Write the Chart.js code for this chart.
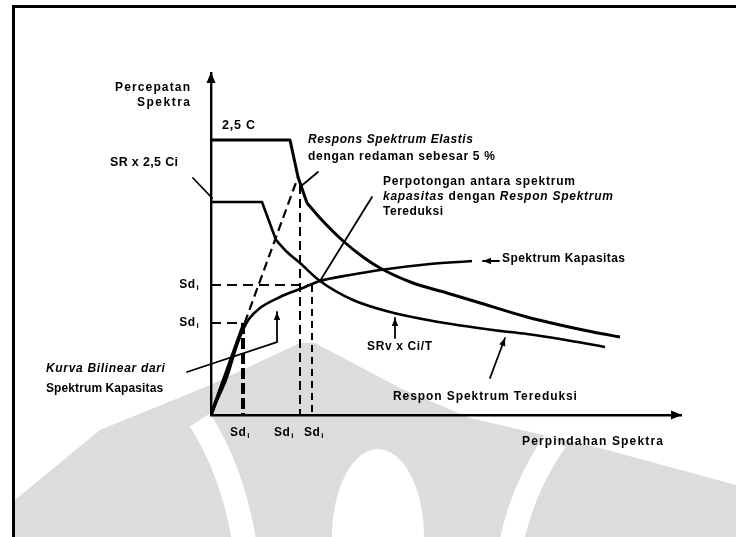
<!DOCTYPE html>
<html>
<head>
<meta charset="utf-8">
<title>Metode Spektrum Kapasitas</title>
<script src="https://cdn.jsdelivr.net/npm/chart.js@4/dist/chart.umd.min.js"></script>
<style>
  html, body { margin: 0; padding: 0; background: #ffffff; }
  canvas { display: block; }
</style>
</head>
<body>
<canvas id="chart" width="736" height="537"></canvas>
<script>
// Spectral displacement (Sd) and spectral acceleration (Sa), in drawing units.

// Elastic response spectrum, 5 % damping (2,5 C plateau)
const elasticSd = [0, 15.8, 17.4, 19.2, 21.8, 26.2, 30.4, 33.8, 40.4, 47.2, 53.2, 63.2, 69.8, 76.4, 81.8];
const elasticSa = [55, 55, 47.6, 42.4, 39.4, 35.0, 31.6, 29.4, 26.4, 24.4, 22.6, 19.6, 18.0, 16.6, 15.6];

// Reduced response spectrum (SR x 2,5 Ci plateau, SRv x Ci/T branch)
const reducedSd = [0, 10.2, 13.0, 15.2, 17.8, 21.8, 28.4, 35.8, 44.4, 56.4, 63.2, 69.8, 78.8];
const reducedSa = [42.6, 42.6, 35.0, 32.6, 30.4, 26.8, 23.0, 20.6, 18.8, 17.0, 16.2, 15.2, 13.6];

// Capacity spectrum
const capacitySd = [0, 0.8, 3.2, 5.2, 6.4, 7.6, 9.8, 13.8, 17.8, 21.8, 27.8, 33.8, 43.8, 52.2];
const capacitySa = [0, 2.0, 7.6, 14.0, 17.0, 19.2, 21.4, 23.6, 25.2, 26.8, 28.0, 29.0, 30.2, 30.8];

// Elastic line from the origin to the spectrum peak
const elasticLineSd = [0, 17.4];
const elasticLineSa = [0, 47.6];

// Bilinear idealisation (elastic branch)
const bilinearSd = [0, 6.6];
const bilinearSa = [0, 18.4];

// Characteristic points: displacements on the Sd axis, accelerations on the Sa axis
const sdMarks = [6.4, 17.8, 20.2];
const sdMarkTop = [18.4, 46.0, 26.0];
const saMarks = [26.0, 18.4];
const saMarkEnd = [20.2, 6.4];
const sdTickLabels = ['Sd', 'Sd', 'Sd'];
const saTickLabels = ['Sd', 'Sd'];

const pts = (xs, ys) => xs.map((x, i) => ({ x: x, y: ys[i] }));
const line = (xs, ys, extra) => Object.assign({
  data: pts(xs, ys),
  showLine: true,
  pointRadius: 0,
  borderColor: '#000',
  backgroundColor: '#000',
  fill: false,
  tension: 0,
  borderWidth: 2.6,
  borderCapStyle: 'butt',
  borderJoinStyle: 'round'
}, extra || {});
const smooth = { cubicInterpolationMode: 'monotone' };

const guideStyles = [
  { borderWidth: 4, borderDash: [11, 4] },
  { borderWidth: 2, borderDash: [9, 5] },
  { borderWidth: 2, borderDash: [7, 5] }
];

// straight plateau and drop, then the smooth descending branch
const elasticKnee = 3, reducedKnee = 2;
const datasets = [
  line(elasticSd.slice(0, elasticKnee + 1), elasticSa.slice(0, elasticKnee + 1), { borderWidth: 3 }),
  line(elasticSd.slice(elasticKnee), elasticSa.slice(elasticKnee), Object.assign({ borderWidth: 3 }, smooth)),
  line(reducedSd.slice(0, reducedKnee + 1), reducedSa.slice(0, reducedKnee + 1), { borderWidth: 2.6 }),
  line(reducedSd.slice(reducedKnee), reducedSa.slice(reducedKnee), Object.assign({ borderWidth: 2.6 }, smooth)),
  line(capacitySd, capacitySa, Object.assign({ borderWidth: 2.6 }, smooth)),
  line(elasticLineSd, elasticLineSa, { borderWidth: 2.2, borderDash: [9, 5] }),
  line(bilinearSd, bilinearSa, { borderWidth: 3.5 })
];
sdMarks.forEach((sd, i) => {
  datasets.push(line([sd, sd], [sdMarkTop[i], 0], guideStyles[i]));
});
saMarks.forEach((sa, i) => {
  datasets.push(line([0, saMarkEnd[i]], [sa, sa], { borderWidth: 2, borderDash: [10, 6] }));
});

// Annotation texts, anchored in data units (x: left or right edge, y: middle of the line)
const notes = [
  { runs: [{ t: 'Percepatan' }], x: -4.2, y: 65.4, align: 'right', w: 75 },
  { runs: [{ t: 'Spektra' }], x: -4.2, y: 62.4, align: 'right', w: 53 },
  { runs: [{ t: '2,5 C' }], x: 2.2, y: 57.8, align: 'left', w: 33, size: 12.5 },
  { runs: [{ t: 'SR x 2,5 Ci' }], x: -20.2, y: 50.4, align: 'left', w: 68, size: 12.5 },
  { runs: [{ t: 'Respons Spektrum Elastis', it: true }], x: 19.4, y: 55.0, align: 'left', w: 165 },
  { runs: [{ t: 'dengan redaman sebesar 5 %' }], x: 19.4, y: 51.6, align: 'left', w: 187 },
  { runs: [{ t: 'Perpotongan antara spektrum' }], x: 34.4, y: 46.6, align: 'left', w: 192 },
  { runs: [{ t: 'kapasitas ', it: true }, { t: 'dengan ' }, { t: 'Respon Spektrum', it: true }], x: 34.4, y: 43.6, align: 'left', w: 230 },
  { runs: [{ t: 'Tereduksi' }], x: 34.4, y: 40.6, align: 'left', w: 60 },
  { runs: [{ t: 'Spektrum Kapasitas' }], x: 58.2, y: 31.2, align: 'left', w: 123 },
  { runs: [{ t: 'SRv x Ci/T' }], x: 31.2, y: 13.6, align: 'left', w: 65 },
  { runs: [{ t: 'Respon Spektrum Tereduksi' }], x: 36.4, y: 3.6, align: 'left', w: 184 },
  { runs: [{ t: 'Kurva Bilinear dari', it: true }], x: -33.0, y: 9.2, align: 'left', w: 119 },
  { runs: [{ t: 'Spektrum Kapasitas' }], x: -33.0, y: 5.2, align: 'left', w: 117 },
  { runs: [{ t: 'Perpindahan Spektra' }], x: 62.2, y: -5.4, align: 'left', w: 141 }
];

// Leader lines from the texts to the curves (data units); arrow at the last point when set
const leaders = [
  { p: [[-3.6, 47.4], [0.2, 43.4]] },
  { p: [[17.8, 45.6], [21.4, 48.6]] },
  { p: [[32.2, 43.6], [21.8, 26.8]] },
  { p: [[57.6, 30.8], [54.4, 30.8]], arrow: true },
  { p: [[36.8, 15.4], [36.8, 19.4]], arrow: true },
  { p: [[55.8, 7.4], [58.8, 15.4]], arrow: true },
  { p: [[-4.8, 8.6], [13.2, 14.6], [13.2, 20.6]], arrow: true }
];

const FONT = '"Liberation Sans", Arial, sans-serif';

function drawRuns(ctx, note, px, py) {
  const size = note.size || 12;
  const fontFor = r => (r.it ? 'italic ' : '') + 'bold ' + size + 'px ' + FONT;
  ctx.letterSpacing = '0px';
  let natural = 0, chars = 0;
  note.runs.forEach(r => {
    ctx.font = fontFor(r);
    r._w = ctx.measureText(r.t).width;
    natural += r._w;
    chars += r.t.length;
  });
  const sp = Math.max(-0.6, (note.w - natural) / Math.max(1, chars - 1));
  const total = natural + sp * (chars - 1);
  let x = note.align === 'right' ? px - total : px;
  ctx.textAlign = 'left';
  ctx.textBaseline = 'middle';
  ctx.fillStyle = '#000';
  note.runs.forEach(r => {
    ctx.font = fontFor(r);
    ctx.letterSpacing = sp.toFixed(2) + 'px';
    ctx.fillText(r.t, x, py);
    x += r._w + sp * r.t.length;
  });
  ctx.letterSpacing = '0px';
}

function drawSubLabel(ctx, base, sub, cx, cy, align) {
  ctx.letterSpacing = '0.4px';
  ctx.font = 'bold 12px ' + FONT;
  const wb = ctx.measureText(base).width;
  ctx.font = 'bold 8px ' + FONT;
  const ws = ctx.measureText(sub).width;
  const total = wb + ws + 1;
  const x = align === 'right' ? cx - total : cx - total / 2;
  ctx.textAlign = 'left';
  ctx.textBaseline = 'middle';
  ctx.fillStyle = '#000';
  ctx.font = 'bold 12px ' + FONT;
  ctx.fillText(base, x, cy);
  ctx.font = 'bold 8px ' + FONT;
  ctx.fillText(sub, x + wb + 1, cy + 3);
  ctx.letterSpacing = '0px';
}

function arrowHead(ctx, x0, y0, x1, y1, len, half) {
  const a = Math.atan2(y1 - y0, x1 - x0);
  ctx.beginPath();
  ctx.moveTo(x1, y1);
  ctx.lineTo(x1 - len * Math.cos(a) + half * Math.sin(a), y1 - len * Math.sin(a) - half * Math.cos(a));
  ctx.lineTo(x1 - len * Math.cos(a) - half * Math.sin(a), y1 - len * Math.sin(a) + half * Math.cos(a));
  ctx.closePath();
  ctx.fill();
}

// Faint emblem printed behind the lower part of the page
function drawEmblem(ctx) {
  ctx.save();
  ctx.fillStyle = '#dcdcdc';
  ctx.beginPath();
  ctx.moveTo(15, 500);
  ctx.lineTo(100, 430);
  ctx.lineTo(210, 385);
  ctx.lineTo(300, 343);
  ctx.lineTo(315, 343);
  ctx.lineTo(400, 388);
  ctx.lineTo(470, 418);
  ctx.lineTo(600, 448);
  ctx.lineTo(736, 485);
  ctx.lineTo(736, 537);
  ctx.lineTo(15, 537);
  ctx.closePath();
  ctx.fill();
  ctx.fillStyle = '#ffffff';
  ctx.beginPath();
  ctx.ellipse(378, 537, 46, 88, 0, 0, Math.PI * 2);
  ctx.fill();
  ctx.strokeStyle = '#ffffff';
  ctx.lineWidth = 24;
  ctx.lineCap = 'butt';
  ctx.beginPath();
  ctx.moveTo(200, 420);
  ctx.quadraticCurveTo(232, 470, 244, 540);
  ctx.stroke();
  ctx.beginPath();
  ctx.moveTo(556, 440);
  ctx.quadraticCurveTo(524, 485, 512, 540);
  ctx.stroke();
  ctx.restore();
}

const diagramDecor = {
  id: 'diagramDecor',
  beforeDraw(chart) {
    const ctx = chart.ctx;
    ctx.save();
    ctx.fillStyle = '#ffffff';
    ctx.fillRect(0, 0, chart.width, chart.height);
    drawEmblem(ctx);
    // page frame
    ctx.strokeStyle = '#000';
    ctx.lineWidth = 3;
    ctx.beginPath();
    ctx.moveTo(13.5, chart.height);
    ctx.lineTo(13.5, 6.5);
    ctx.lineTo(chart.width, 6.5);
    ctx.stroke();
    ctx.restore();
  },
  afterDraw(chart) {
    const ctx = chart.ctx;
    const xs = chart.scales.x, ys = chart.scales.y;
    const X = v => xs.getPixelForValue(v);
    const Y = v => ys.getPixelForValue(v);
    const area = chart.chartArea;
    ctx.save();
    ctx.fillStyle = '#000';
    ctx.strokeStyle = '#000';

    // axis arrow heads
    arrowHead(ctx, area.left, area.top + 20, area.left, area.top - 1, 11, 4.5);
    arrowHead(ctx, area.right - 20, area.bottom, area.right + 1, area.bottom, 11, 4.5);

    // leader lines
    ctx.lineWidth = 1.8;
    ctx.lineCap = 'round';
    leaders.forEach(l => {
      ctx.beginPath();
      l.p.forEach((q, i) => {
        const px = X(q[0]), py = Y(q[1]);
        if (i === 0) ctx.moveTo(px, py); else ctx.lineTo(px, py);
      });
      ctx.stroke();
      if (l.arrow) {
        const a = l.p[l.p.length - 2], b = l.p[l.p.length - 1];
        arrowHead(ctx, X(a[0]), Y(a[1]), X(b[0]), Y(b[1]), 8, 3.2);
      }
    });

    // texts
    notes.forEach(n => drawRuns(ctx, n, X(n.x), Y(n.y)));

    // characteristic point labels
    const sdLabelAnchors = [5.8, 14.6, 20.6];
    sdTickLabels.forEach((t, i) => drawSubLabel(ctx, t, 'i', X(sdLabelAnchors[i]), area.bottom + 18, 'center'));
    saTickLabels.forEach((t, i) => drawSubLabel(ctx, t, 'i', X(-2.4), Y(saMarks[i]), 'right'));
    ctx.restore();
  }
};

new Chart(document.getElementById('chart'), {
  type: 'scatter',
  data: { datasets: datasets },
  options: {
    responsive: false,
    animation: false,
    devicePixelRatio: 1,
    layout: { padding: { left: 211, right: 55, top: 73, bottom: 122 } },
    plugins: { legend: { display: false }, tooltip: { enabled: false } },
    scales: {
      x: {
        type: 'linear', min: 0, max: 94,
        grid: { display: false, drawTicks: false },
        ticks: { display: false },
        border: { display: true, color: '#000', width: 2.4 },
        afterFit(s) { s.height = 0; }
      },
      y: {
        type: 'linear', min: 0, max: 68.4,
        grid: { display: false, drawTicks: false },
        ticks: { display: false },
        border: { display: true, color: '#000', width: 2.4 },
        afterFit(s) { s.width = 0; }
      }
    }
  },
  plugins: [diagramDecor]
});
</script>
</body>
</html>
